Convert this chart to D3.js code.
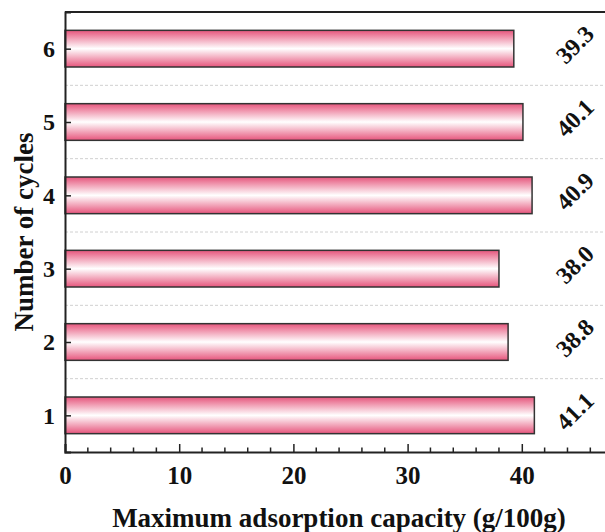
<!DOCTYPE html>
<html><head><meta charset="utf-8">
<script src="https://cdn.jsdelivr.net/npm/d3@7"></script>
<style>body{margin:0;background:#fff}svg{display:block}</style>
</head><body>
<script>
const cycles = [1, 2, 3, 4, 5, 6];
const capacity = [41.1, 38.8, 38.0, 40.9, 40.1, 39.3];
const labels = ["41.1", "38.8", "38.0", "40.9", "40.1", "39.3"];
const xTicks = [0, 10, 20, 30, 40];

const W = 605, H = 532;
const svg = d3.select("body").append("svg").attr("width", W).attr("height", H);
const font = "'Liberation Serif','Times New Roman',serif";

const x = d3.scaleLinear().domain([0, 50]).range([65, 636]);
const y = d3.scaleLinear().domain([0.5, 6.5]).range([452, 12]);

const defs = svg.append("defs");
const g = defs.append("linearGradient").attr("id", "pink").attr("x1", 0).attr("y1", 0).attr("x2", 0).attr("y2", 1);
g.append("stop").attr("offset", "0%").attr("stop-color", "#e6557c");
g.append("stop").attr("offset", "50%").attr("stop-color", "#ffffff");
g.append("stop").attr("offset", "100%").attr("stop-color", "#e6557c");

// grid lines between categories
const gridVals = [1.5, 2.5, 3.5, 4.5, 5.5];
svg.append("g").selectAll("line").data(gridVals).join("line")
  .attr("x1", x(0)).attr("x2", x(50))
  .attr("y1", d => y(d)).attr("y2", d => y(d))
  .attr("stroke", "#d0d0d0").attr("stroke-width", 1).attr("stroke-dasharray", "3,2");

// bars
const bh = y(1) - y(1.5);
svg.append("g").selectAll("rect").data(cycles).join("rect")
  .attr("x", x(0))
  .attr("y", (d) => y(d) - bh / 2)
  .attr("width", (d, i) => x(capacity[i]) - x(0))
  .attr("height", bh)
  .attr("fill", "url(#pink)")
  .attr("stroke", "#333").attr("stroke-width", 1.5);

// value labels
svg.append("g").selectAll("text").data(cycles).join("text")
  .attr("transform", d => `translate(${575},${y(d) - 4}) rotate(-45)`)
  .attr("text-anchor", "middle").attr("dominant-baseline", "central")
  .attr("font-family", font).attr("font-weight", "bold").attr("font-size", 24).attr("fill", "#111")
  .text((d, i) => labels[i]);

// top frame
svg.append("line").attr("x1", x(0)).attr("x2", x(50)).attr("y1", y(6.5)).attr("y2", y(6.5))
  .attr("stroke", "#222").attr("stroke-width", 2);

// x axis
const xAxis = d3.axisBottom(x).tickValues(xTicks).tickSize(-8).tickPadding(14).tickFormat(d3.format("d"));
const xg = svg.append("g").attr("transform", `translate(0,${y(0.5)})`).call(xAxis);
xg.select(".domain").attr("stroke", "#222").attr("stroke-width", 2);
xg.selectAll(".tick line").attr("stroke", "#222").attr("stroke-width", 1.5);
xg.selectAll("text").attr("font-family", font).attr("font-weight", "bold").attr("font-size", 25).attr("fill", "#111");
// minor ticks
const minor = d3.range(2, 50, 2).filter(v => v % 10 !== 0);
svg.append("g").selectAll("line").data(minor).join("line")
  .attr("x1", d => x(d)).attr("x2", d => x(d))
  .attr("y1", y(0.5)).attr("y2", y(0.5) - 4.5)
  .attr("stroke", "#222").attr("stroke-width", 1.5);

// y axis
const yAxis = d3.axisLeft(y).tickValues(cycles).tickSize(-6).tickPadding(10).tickFormat(d3.format("d"));
const yg = svg.append("g").attr("transform", `translate(${x(0)},0)`).call(yAxis);
yg.select(".domain").attr("stroke", "#222").attr("stroke-width", 2);
yg.selectAll(".tick line").attr("stroke", "#222").attr("stroke-width", 1.5);
yg.selectAll("text").attr("font-family", font).attr("font-weight", "bold").attr("font-size", 24).attr("fill", "#111");

// titles
svg.append("text").attr("x", 339).attr("y", 527).attr("text-anchor", "middle")
  .attr("font-family", font).attr("font-weight", "bold").attr("font-size", 27).attr("fill", "#111")
  .text("Maximum adsorption capacity (g/100g)");
svg.append("text").attr("transform", `translate(33,${(y(0.5) + y(6.5)) / 2}) rotate(-90)`)
  .attr("text-anchor", "middle")
  .attr("font-family", font).attr("font-weight", "bold").attr("font-size", 27).attr("fill", "#111")
  .text("Number of cycles");
</script>
</body></html>
